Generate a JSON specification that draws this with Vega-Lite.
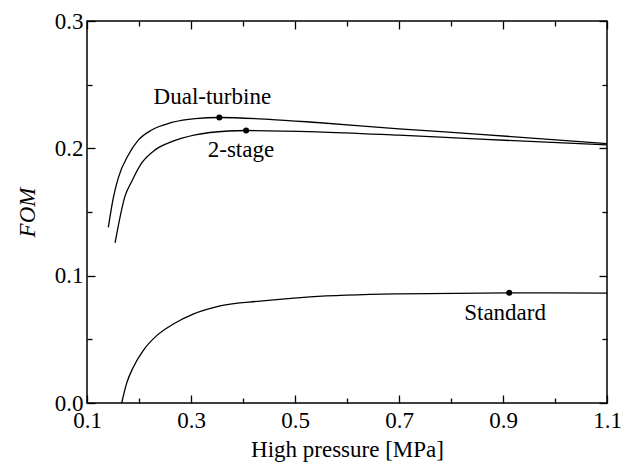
{
  "$schema": "https://vega.github.io/schema/vega-lite/v6.json",
  "autosize": "none",
  "width": 520,
  "height": 382,
  "padding": {"left": 87, "top": 21, "right": 27, "bottom": 61},
  "background": "white",
  "config": {
    "view": {"stroke": "black", "strokeWidth": 1.5},
    "font": "Liberation Serif, Times New Roman, serif",
    "text": {"font": "Liberation Serif, Times New Roman, serif"},
    "axis": {"grid": false, "domain": false, "tickColor": "black", "tickWidth": 1.3, "labelColor": "black", "titleColor": "black", "labelFont": "Liberation Serif, Times New Roman, serif", "titleFont": "Liberation Serif, Times New Roman, serif", "labelFontSize": 23, "titleFontSize": 23, "titleFontWeight": "normal"}
  },
  "datasets": {
    "curves": [
      {"series": "Dual-turbine", "x": 0.141, "y": 0.138},
      {"series": "Dual-turbine", "x": 0.1506, "y": 0.161},
      {"series": "Dual-turbine", "x": 0.160, "y": 0.1766},
      {"series": "Dual-turbine", "x": 0.1795, "y": 0.1948},
      {"series": "Dual-turbine", "x": 0.199, "y": 0.2066},
      {"series": "Dual-turbine", "x": 0.2243, "y": 0.2144},
      {"series": "Dual-turbine", "x": 0.263, "y": 0.2203},
      {"series": "Dual-turbine", "x": 0.308, "y": 0.2234},
      {"series": "Dual-turbine", "x": 0.3545, "y": 0.2242},
      {"series": "Dual-turbine", "x": 0.45, "y": 0.2228},
      {"series": "Dual-turbine", "x": 0.542, "y": 0.2203},
      {"series": "Dual-turbine", "x": 0.70, "y": 0.2153},
      {"series": "Dual-turbine", "x": 0.856, "y": 0.2110},
      {"series": "Dual-turbine", "x": 1.1, "y": 0.2037},
      {"series": "2-stage", "x": 0.154, "y": 0.1258},
      {"series": "2-stage", "x": 0.173, "y": 0.1623},
      {"series": "2-stage", "x": 0.186, "y": 0.174},
      {"series": "2-stage", "x": 0.205, "y": 0.1883},
      {"series": "2-stage", "x": 0.231, "y": 0.1988},
      {"series": "2-stage", "x": 0.263, "y": 0.2052},
      {"series": "2-stage", "x": 0.308, "y": 0.2105},
      {"series": "2-stage", "x": 0.372, "y": 0.2136},
      {"series": "2-stage", "x": 0.406, "y": 0.2140},
      {"series": "2-stage", "x": 0.542, "y": 0.2130},
      {"series": "2-stage", "x": 0.70, "y": 0.2103},
      {"series": "2-stage", "x": 0.856, "y": 0.2072},
      {"series": "2-stage", "x": 1.1, "y": 0.2027},
      {"series": "Standard", "x": 0.1667, "y": 0.0},
      {"series": "Standard", "x": 0.176, "y": 0.0152},
      {"series": "Standard", "x": 0.189, "y": 0.0281},
      {"series": "Standard", "x": 0.208, "y": 0.0412},
      {"series": "Standard", "x": 0.234, "y": 0.0529},
      {"series": "Standard", "x": 0.266, "y": 0.062},
      {"series": "Standard", "x": 0.304, "y": 0.0698},
      {"series": "Standard", "x": 0.356, "y": 0.0763},
      {"series": "Standard", "x": 0.433, "y": 0.0800},
      {"series": "Standard", "x": 0.529, "y": 0.0833},
      {"series": "Standard", "x": 0.7025, "y": 0.0857},
      {"series": "Standard", "x": 0.912, "y": 0.0865},
      {"series": "Standard", "x": 1.1, "y": 0.0863}
    ],
    "dots": [
      {"series": "Dual-turbine", "x": 0.3545, "y": 0.2242},
      {"series": "2-stage", "x": 0.406, "y": 0.2140},
      {"series": "Standard", "x": 0.912, "y": 0.0865}
    ],
    "labels": [
      {"label": "Dual-turbine", "x": 0.341, "y": 0.2400},
      {"label": "2-stage", "x": 0.396, "y": 0.1984},
      {"label": "Standard", "x": 0.904, "y": 0.0709}
    ]
  },
  "layer": [
    {
      "data": {"name": "curves"},
      "mark": {"type": "line", "color": "black", "strokeWidth": 1.3, "interpolate": "monotone"},
      "encoding": {
        "x": {"field": "x", "type": "quantitative", "scale": {"domain": [0.1, 1.1], "nice": false, "zero": false},
          "axis": {"orient": "bottom", "title": "High pressure [MPa]", "values": [0.1,0.2,0.3,0.4,0.5,0.6,0.7,0.8,0.9,1.0,1.1], "format": ".1f",
            "labelExpr": "round(datum.value*10) % 2 == 1 ? datum.label : ''",
            "tickSize": {"condition": {"test": "round(datum.value*10) % 2 == 1", "value": -8}, "value": -5},
            "labelPadding": 14, "titlePadding": 3, "labelFlush": false, "labelOverlap": false}},
        "y": {"field": "y", "type": "quantitative", "scale": {"domain": [0, 0.3], "nice": false},
          "axis": {"orient": "left", "title": "FOM", "titleFontStyle": "italic", "values": [0,0.05,0.1,0.15,0.2,0.25,0.3], "format": ".1f",
            "labelExpr": "round(datum.value*20) % 2 == 0 ? datum.label : ''",
            "tickSize": {"condition": {"test": "round(datum.value*20) % 2 == 0", "value": -8}, "value": -5},
            "labelPadding": 12, "titlePadding": 15, "labelFlush": false, "labelOverlap": false}},
        "detail": {"field": "series", "type": "nominal"}
      }
    },
    {
      "data": {"name": "dots"},
      "mark": {"type": "circle", "color": "black", "opacity": 1, "size": 36},
      "encoding": {
        "x": {"field": "x", "type": "quantitative",
          "axis": {"orient": "top", "title": null, "labels": false, "values": [0.1,0.2,0.3,0.4,0.5,0.6,0.7,0.8,0.9,1.0,1.1],
            "tickSize": {"condition": {"test": "round(datum.value*10) % 2 == 1", "value": -8}, "value": -5}}},
        "y": {"field": "y", "type": "quantitative",
          "axis": {"orient": "right", "title": null, "labels": false, "values": [0,0.05,0.1,0.15,0.2,0.25,0.3],
            "tickSize": {"condition": {"test": "round(datum.value*20) % 2 == 0", "value": -8}, "value": -5}}}
      }
    },
    {
      "data": {"name": "labels"},
      "mark": {"type": "text", "color": "black", "fontSize": 23, "align": "center", "baseline": "middle"},
      "encoding": {
        "x": {"field": "x", "type": "quantitative", "axis": null},
        "y": {"field": "y", "type": "quantitative", "axis": null},
        "text": {"field": "label", "type": "nominal"}
      }
    }
  ],
  "resolve": {"axis": {"x": "independent", "y": "independent"}}
}
